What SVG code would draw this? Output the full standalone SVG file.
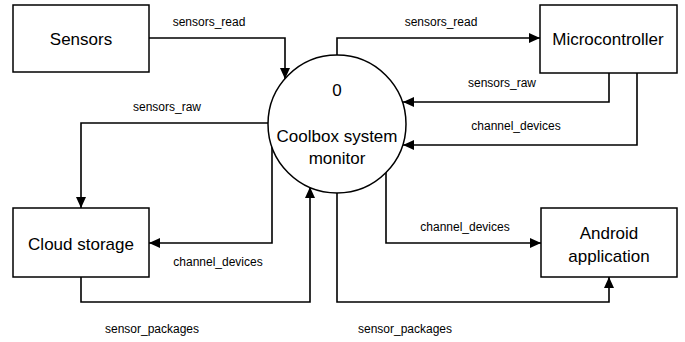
<svg xmlns="http://www.w3.org/2000/svg" width="685" height="342" viewBox="0 0 685 342">
  <style>
    .box { fill: #ffffff; stroke: #000000; stroke-width: 1.5; }
    .node-text { font-family: "Liberation Sans", Arial, sans-serif; font-size: 17px; fill: #000000; text-anchor: middle; }
    .flow { fill: none; stroke: #000000; stroke-width: 1.6; marker-end: url(#arrow); }
    .flow-label { font-family: "Liberation Sans", Arial, sans-serif; font-size: 12px; fill: #000000; text-anchor: middle; }
  </style>
  <defs>
    <marker id="arrow" markerUnits="userSpaceOnUse" markerWidth="12" markerHeight="12" viewBox="0 0 12 12" refX="11" refY="6" orient="auto">
      <path d="M0,1 L11,6 L0,11 Z" fill="#000000"/>
    </marker>
  </defs>

  <rect width="685" height="342" fill="#ffffff"/>

  <!-- data flows -->
  <g id="connectors">
    <path class="flow" d="M149,38 H285 V79"/>
    <path class="flow" d="M337,55 V38 H540"/>
    <path class="flow" d="M609,73 V102 H403"/>
    <path class="flow" d="M637,73 V145 H403"/>
    <path class="flow" d="M269,123 H81 V208"/>
    <path class="flow" d="M272,147 V243 H149"/>
    <path class="flow" d="M81,277 V302 H310 V187"/>
    <path class="flow" d="M337,193 V302 H609 V277"/>
    <path class="flow" d="M386,171 V243 H541"/>
  </g>

  <g id="flow-labels">
    <text class="flow-label" x="209" y="26">sensors_read</text>
    <text class="flow-label" x="441" y="26">sensors_read</text>
    <text class="flow-label" x="502" y="87">sensors_raw</text>
    <text class="flow-label" x="516" y="130">channel_devices</text>
    <text class="flow-label" x="167" y="111">sensors_raw</text>
    <text class="flow-label" x="218" y="266">channel_devices</text>
    <text class="flow-label" x="465" y="231">channel_devices</text>
    <text class="flow-label" x="152" y="333">sensor_packages</text>
    <text class="flow-label" x="405" y="333">sensor_packages</text>
  </g>

  <!-- external entities and process -->
  <g id="sensors">
    <rect class="box" x="13" y="5" width="136" height="67"/>
    <text class="node-text" x="81" y="45">Sensors</text>
  </g>

  <g id="microcontroller">
    <rect class="box" x="540" y="5" width="137" height="68"/>
    <text class="node-text" x="608" y="45">Microcontroller</text>
  </g>

  <g id="cloud-storage">
    <rect class="box" x="13" y="208" width="136" height="69"/>
    <text class="node-text" x="81" y="250">Cloud storage</text>
  </g>

  <g id="android-application">
    <rect class="box" x="541" y="208" width="136" height="69"/>
    <text class="node-text" x="609" y="239">Android</text>
    <text class="node-text" x="609" y="262">application</text>
  </g>

  <g id="coolbox-system-monitor">
    <circle class="box" cx="337" cy="124" r="69"/>
    <text class="node-text" x="337" y="96">0</text>
    <text class="node-text" x="337" y="142">Coolbox system</text>
    <text class="node-text" x="337" y="164">monitor</text>
  </g>
</svg>
